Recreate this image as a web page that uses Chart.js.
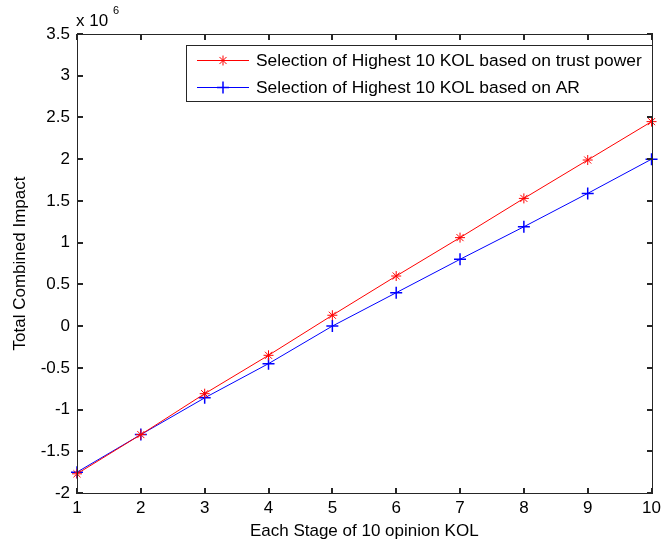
<!DOCTYPE html>
<html>
<head>
<meta charset="utf-8">
<script src="https://cdn.jsdelivr.net/npm/chart.js@4"></script>
<style>
    body { margin: 0; background: #fff; }
    #wrap { width: 666px; height: 544px; }
</style>
</head>
<body>
<div id="wrap"><canvas id="lineChart"></canvas></div>
<script>
// dati (valori in milioni, asse "x 10^6")
const stadi = ['1', '2', '3', '4', '5', '6', '7', '8', '9', '10'];
const votiTrust = [-1.77, -1.30, -0.81, -0.35, 0.13, 0.60, 1.06, 1.53, 1.99, 2.45];
const votiAR = [-1.75, -1.30, -0.86, -0.45, 0.00, 0.40, 0.80, 1.19, 1.59, 2.00];
const yMin = -2, yMax = 3.5, yStep = 0.5;
const nomeTrust = 'Selection of Highest 10 KOL based on trust power';
const nomeAR = 'Selection of Highest 10 KOL based on AR';

const font = '"Liberation Sans", Arial, sans-serif';
const fontSize = 17;
const coloreAssi = '#262626';

// tacche interne + riquadro + legenda + "x 10^6"
const stileMatlab = {
    id: 'stileMatlab',
    afterDraw(chart) {
        const c = chart.ctx;
        const a = chart.chartArea;
        const xs = chart.scales.x, ys = chart.scales.y;
        const L = Math.round(a.left), R = Math.round(a.right);
        const T = Math.round(a.top), B = Math.round(a.bottom);
        c.save();
        c.fillStyle = coloreAssi;
        // riquadro
        c.fillRect(L, T, R - L + 1, 1);
        c.fillRect(L, B, R - L + 1, 1);
        c.fillRect(L, T, 1, B - T + 1);
        c.fillRect(R, T, 1, B - T + 1);
        // tacche
        for (const t of ys.ticks) {
            const y = Math.round(ys.getPixelForValue(t.value));
            c.fillRect(L, y - 1, 6, 2);
            c.fillRect(R - 5, y - 1, 6, 2);
        }
        for (let i = 0; i < xs.ticks.length; i++) {
            const x = Math.round(xs.getPixelForTick(i));
            c.fillRect(x - 1, B - 5, 2, 6);
            c.fillRect(x - 1, T, 2, 6);
        }

        // moltiplicatore
        c.fillStyle = '#000';
        c.font = fontSize + 'px ' + font;
        c.textBaseline = 'alphabetic';
        c.textAlign = 'left';
        c.fillText('x 10', 76, 26);
        c.font = '11px ' + font;
        c.fillText('6', 113, 14);

        // legenda
        const lx = 186, ly = 45, lw = 466, lh = 56;
        c.fillStyle = '#fff';
        c.fillRect(lx, ly, lw, lh);
        c.fillStyle = coloreAssi;
        c.fillRect(lx, ly, lw + 1, 1);
        c.fillRect(lx, ly + lh, lw + 1, 1);
        c.fillRect(lx, ly, 1, lh + 1);
        c.fillRect(lx + lw, ly, 1, lh + 1);
        chart.data.datasets.forEach((ds, i) => {
            const y = ly + 15 + i * 27;
            c.strokeStyle = ds.borderColor;
            c.fillStyle = ds.borderColor;
            c.lineWidth = 1;
            c.beginPath();
            c.moveTo(197, y + 0.5);
            c.lineTo(249, y + 0.5);
            c.stroke();
            c.lineWidth = ds.pointBorderWidth;
            Chart.helpers.drawPoint(c, {
                pointStyle: ds.pointStyle, radius: ds.pointRadius, rotation: 0, borderWidth: ds.pointBorderWidth
            }, 223, y + 0.5);
            c.fillStyle = '#000';
            c.font = '17.4px ' + font;
            c.textBaseline = 'middle';
            c.fillText(ds.label, 256, y + 1);
        });
        c.restore();
    }
};

const ctx = document.getElementById('lineChart').getContext('2d');
const myChart = new Chart(ctx, {
    type: 'line',
    data: {
        labels: stadi,
        datasets: [{
            label: nomeTrust,
            data: votiTrust,
            borderColor: '#ff0000',
            backgroundColor: '#ff0000',
            borderWidth: 1,
            tension: 0,
            fill: false,
            pointStyle: 'star',
            pointRadius: 5,
            pointBorderWidth: 1,
            pointBorderColor: '#ff0000'
        }, {
            label: nomeAR,
            data: votiAR,
            borderColor: '#0000ff',
            backgroundColor: '#0000ff',
            borderWidth: 1,
            tension: 0,
            fill: false,
            pointStyle: 'cross',
            pointRadius: 6,
            pointBorderWidth: 1.5,
            pointBorderColor: '#0000ff'
        }]
    },
    options: {
        responsive: true,
        maintainAspectRatio: false,
        animation: false,
        layout: { padding: { top: 34, right: 9, left: 0, bottom: 0 } },
        plugins: { legend: { display: false }, tooltip: { enabled: false } },
        scales: {
            x: {
                offset: false,
                grid: { display: false, drawTicks: false },
                border: { display: false },
                ticks: { color: '#000', font: { family: font, size: fontSize }, padding: 5, maxRotation: 0 },
                title: {
                    display: true, text: 'Each Stage of 10 opinion KOL', color: '#000',
                    font: { family: font, size: fontSize }, padding: { top: 0, bottom: 2 }
                },
                afterFit(scale) { scale.height = 51; }
            },
            y: {
                min: yMin,
                max: yMax,
                grid: { display: false, drawTicks: false },
                border: { display: false },
                ticks: {
                    stepSize: yStep, color: '#000', font: { family: font, size: fontSize }, padding: 7,
                    callback: v => String(Math.round(v * 10) / 10)
                },
                title: {
                    display: true, text: 'Total Combined Impact', color: '#000',
                    font: { family: font, size: fontSize }, padding: { top: 10, bottom: 0 }
                },
                afterFit(scale) { scale.width = 77; }
            }
        }
    },
    plugins: [stileMatlab]
});
</script>
</body>
</html>
